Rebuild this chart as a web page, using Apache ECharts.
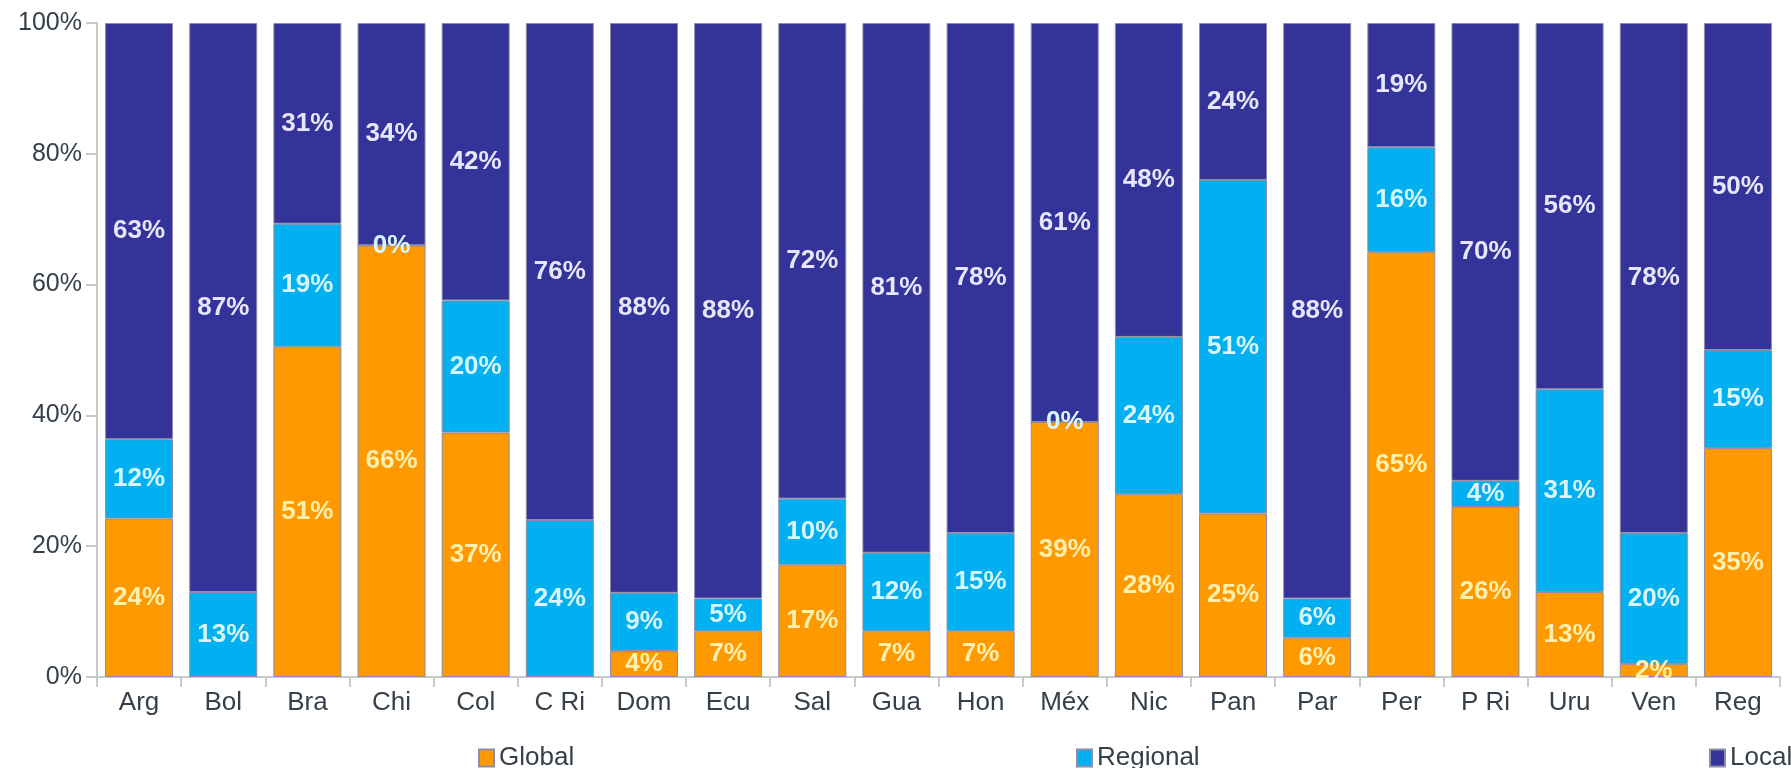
<!DOCTYPE html>
<html>
<head>
<meta charset="utf-8">
<script src="https://cdn.jsdelivr.net/npm/echarts@6/dist/echarts.min.js"></script>
<style>
html,body{margin:0;padding:0;background:#fff;}
#chart{width:1791px;height:768px;}
</style>
</head>
<body>
<div id="chart"></div>
<script>
const categories = ['Arg','Bol','Bra','Chi','Col','C Ri','Dom','Ecu','Sal','Gua','Hon','Méx','Nic','Pan','Par','Per','P Ri','Uru','Ven','Reg'];
const globalPct   = [24, null, 51, 66, 37, null, 4, 7, 17, 7, 7, 39, 28, 25, 6, 65, 26, 13, 2, 35];
const regionalPct = [12, 13, 19, 0, 20, 24, 9, 5, 10, 12, 15, 0, 24, 51, 6, 16, 4, 31, 20, 15];
const localPct    = [63, 87, 31, 34, 42, 76, 88, 88, 72, 81, 78, 61, 48, 24, 88, 19, 70, 56, 78, 50];
const yTicks = [0, 20, 40, 60, 80, 100];

const seriesNames = ['Global', 'Regional', 'Local'];
const raw = [globalPct, regionalPct, localPct];
const colors = ['#FF9900', '#00B0F0', '#333399'];
const labelColors = ['#FFF0B0', '#D8F6FF', '#E6E6FF'];

// 100% stacked: each column normalised to its own total
const totals = categories.map((_, i) => raw.reduce((s, arr) => s + (arr[i] == null ? 0 : arr[i]), 0));

const series = raw.map((arr, si) => ({
  name: seriesNames[si],
  type: 'bar',
  stack: 'total',
  barWidth: 68,
  itemStyle: { color: colors[si], borderColor: '#8E8CA6', borderWidth: 1 },
  label: {
    show: true,
    position: 'inside',
    color: labelColors[si],
    fontFamily: 'Liberation Sans, Arial, sans-serif',
    fontSize: 26,
    fontWeight: 'bold',
    formatter: p => (arr[p.dataIndex] == null ? '' : arr[p.dataIndex] + '%')
  },
  data: arr.map((v, i) => (v == null ? null : v / totals[i] * 100))
}));

const chart = echarts.init(document.getElementById('chart'), null, { renderer: 'canvas' });
const textColor = '#36404A';
const legendBase = {
  orient: 'horizontal',
  top: 740,
  itemWidth: 15,
  itemHeight: 17,
  itemGap: 5,
  textStyle: { color: textColor, fontSize: 26, fontFamily: 'Liberation Sans, Arial, sans-serif', padding: [0, 0, 0, 0] },
  icon: 'rect'
};
chart.setOption({
  animation: false,
  backgroundColor: '#ffffff',
  grid: { left: 97, right: 11, top: 23, bottom: 91, containLabel: false },
  legend: [
    Object.assign({}, legendBase, { left: 473, data: ['Global'] }),
    Object.assign({}, legendBase, { left: 1071, data: ['Regional'] }),
    Object.assign({}, legendBase, { left: 1704, data: ['Local'] })
  ],
  xAxis: {
    type: 'category',
    data: categories,
    axisLine: { show: true, lineStyle: { color: '#C8C8C8', width: 2 } },
    axisTick: { show: true, alignWithLabel: false, length: 10, lineStyle: { color: '#C8C8C8', width: 2 } },
    axisLabel: { color: textColor, fontSize: 26, margin: 13, fontFamily: 'Liberation Sans, Arial, sans-serif' }
  },
  yAxis: {
    type: 'value',
    min: 0,
    max: 100,
    interval: 20,
    axisLine: { show: true, lineStyle: { color: '#C8C8C8', width: 2 } },
    axisTick: { show: true, length: 11, lineStyle: { color: '#C8C8C8', width: 2 } },
    splitLine: { show: false },
    axisLabel: {
      color: textColor, fontSize: 25, margin: 15, fontFamily: 'Liberation Sans, Arial, sans-serif',
      formatter: v => (yTicks.indexOf(v) >= 0 ? v + '%' : '')
    }
  },
  series: series
});
</script>
</body>
</html>
